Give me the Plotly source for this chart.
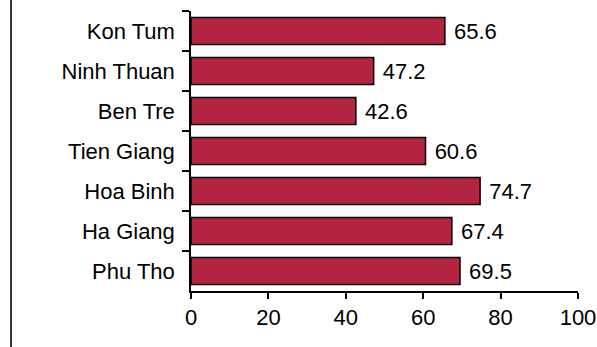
import plotly.graph_objects as go

provinces = ["Kon Tum", "Ninh Thuan", "Ben Tre", "Tien Giang", "Hoa Binh", "Ha Giang", "Phu Tho"]
values = [65.6, 47.2, 42.6, 60.6, 74.7, 67.4, 69.5]
x_ticks = [0, 20, 40, 60, 80, 100]

FONT = "Liberation Sans, Arial, sans-serif"

fig = go.Figure(go.Bar(
    y=provinces,
    x=values,
    orientation="h",
    marker=dict(color="#B22440", line=dict(color="#000000", width=1.5)),
    text=[f" {v:.1f}" for v in values],
    textposition="outside",
    textfont=dict(family=FONT, size=22, color="#000000"),
    cliponaxis=False,
    width=0.68,
))

fig.update_layout(
    width=597, height=347,
    margin=dict(l=191, r=19, t=11, b=56, autoexpand=False),
    paper_bgcolor="white", plot_bgcolor="white",
    showlegend=False,
    uniformtext=dict(minsize=22),
    font=dict(family=FONT, size=22, color="#000000"),
    xaxis=dict(
        range=[0, 100], tickvals=x_ticks, showgrid=False, zeroline=False,
        showline=True, linecolor="#000000", linewidth=1.5,
        ticks="outside", ticklen=6, tickwidth=1.5, tickcolor="#000000",
        tickfont=dict(family=FONT, size=22), automargin=False,
    ),
    yaxis=dict(
        categoryorder="array", categoryarray=provinces, autorange="reversed",
        showgrid=False, zeroline=False,
        showline=True, linecolor="#000000", linewidth=1.5,
        ticks="outside", ticklen=7, tickwidth=1.5, tickcolor="#000000",
        tickson="boundaries",
        tickfont=dict(family=FONT, size=22),
        ticklabelstandoff=10, automargin=False,
    ),
    shapes=[dict(type="line", xref="paper", yref="paper", x0=-0.465, x1=-0.465, y0=-0.2, y1=1.04,
                 line=dict(color="#333333", width=2))],
)

fig.write_html("out.html")
